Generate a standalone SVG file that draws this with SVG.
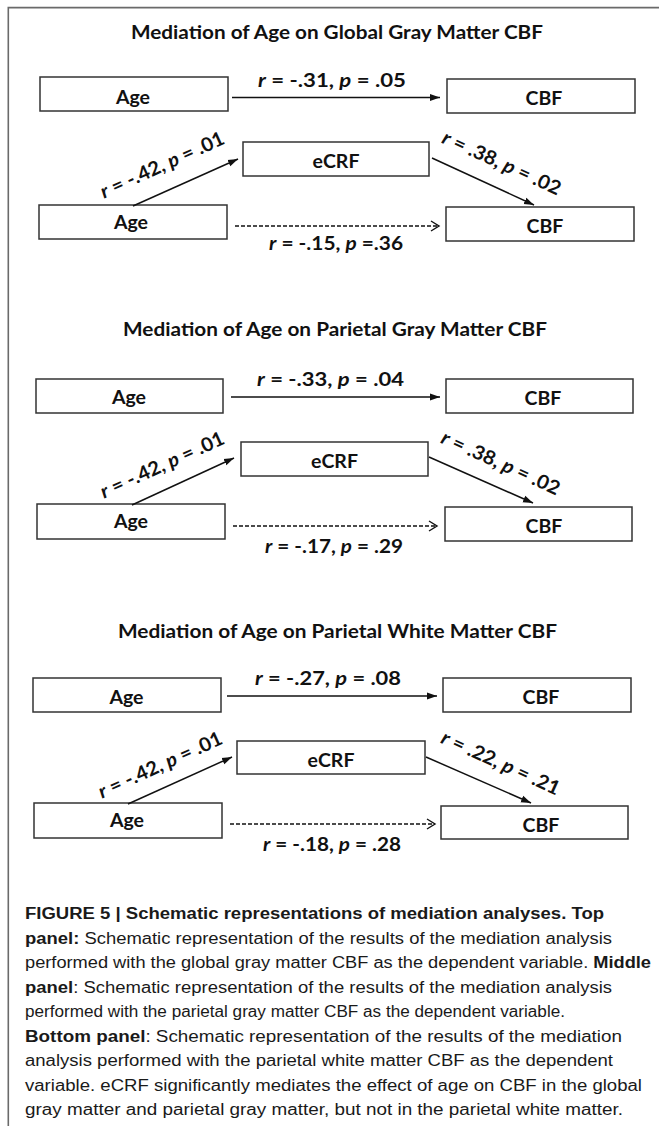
<svg xmlns="http://www.w3.org/2000/svg" width="659" height="1126" viewBox="0 0 659 1126">
<style>
.frame{fill:none;stroke:#6a6a6a;stroke-width:1.6}
.box{fill:#fff;stroke:#333;stroke-width:1.5}
.lbl{font-family:Lato,"Liberation Sans",sans-serif;font-weight:bold;font-size:19.5px;fill:#111;text-anchor:middle}
.ttl{font-family:Lato,"Liberation Sans",sans-serif;font-weight:bold;font-size:19.5px;fill:#111;text-anchor:middle}
.it{font-style:italic}
.solid{stroke:#111;stroke-width:1.5;fill:none;marker-end:url(#ah)}
.dash{stroke:#111;stroke-width:1.4;fill:none;stroke-dasharray:4 2;marker-end:url(#oh)}
.cap{font-family:"Liberation Sans",Arial,sans-serif;font-size:15.6px;fill:#1a1a1a}
.b{font-weight:bold}
</style>
<defs>
<marker id="ah" markerUnits="userSpaceOnUse" markerWidth="10" markerHeight="8" refX="10" refY="4" orient="auto" viewBox="0 0 10 8">
<path d="M0,0.5 L10,4 L0,7.5 z" fill="#111"/>
</marker>
<marker id="oh" markerUnits="userSpaceOnUse" markerWidth="11" markerHeight="12" refX="9.5" refY="6" orient="auto" viewBox="0 0 11 12">
<path d="M1.5,1 L9.5,6 L1.5,11" fill="none" stroke="#111" stroke-width="1.4"/>
</marker>
</defs>
<rect width="659" height="1126" fill="#fff"/>
<path class="frame" d="M8.3,1126 V7.6 H659"/>

<!-- Panel 1 -->
<g id="panel1">
<text id="title1" class="ttl" x="337" y="39" textLength="412" lengthAdjust="spacingAndGlyphs">Mediation of Age on Global Gray Matter CBF</text>
<g id="p1-age-top"><rect class="box" x="40" y="77" width="188" height="34"/><text class="lbl" x="133" y="103.5">Age</text></g>
<g id="p1-cbf-top"><rect class="box" x="447" y="79" width="188" height="34"/><text class="lbl" x="544" y="105">CBF</text></g>
<g id="p1-ecrf"><rect class="box" x="243" y="142" width="186" height="34"/><text class="lbl" x="336" y="168">eCRF</text></g>
<g id="p1-age-bot"><rect class="box" x="39" y="205" width="188" height="34"/><text class="lbl" x="131" y="228.5">Age</text></g>
<g id="p1-cbf-bot"><rect class="box" x="446" y="207" width="188" height="34"/><text class="lbl" x="545" y="233">CBF</text></g>
<g id="p1-connectors">
<line class="solid" x1="232" y1="97.5" x2="440" y2="97.5"/>
<line class="solid" x1="133" y1="206" x2="238" y2="159"/>
<line class="solid" x1="432" y1="158" x2="534" y2="205"/>
<line class="dash" x1="235" y1="226" x2="439" y2="226"/>
<text class="lbl" x="332" y="87" textLength="148" lengthAdjust="spacingAndGlyphs"><tspan class="it">r</tspan> = -.31, <tspan class="it">p</tspan> = .05</text>
<text class="lbl" x="336" y="250" textLength="134" lengthAdjust="spacingAndGlyphs"><tspan class="it">r</tspan> = -.15, <tspan class="it">p</tspan> =.36</text>
<text class="lbl" transform="translate(165,171) rotate(-24.5)" textLength="134" lengthAdjust="spacingAndGlyphs"><tspan class="it">r</tspan> = -.42, <tspan class="it">p</tspan> = .01</text>
<text class="lbl" transform="translate(499,169) rotate(24.5)" textLength="128" lengthAdjust="spacingAndGlyphs"><tspan class="it">r</tspan> = .38, <tspan class="it">p</tspan> = .02</text>
</g>
</g>

<!-- Panel 2 -->
<g id="panel2">
<text id="title2" class="ttl" x="335" y="336" textLength="424" lengthAdjust="spacingAndGlyphs">Mediation of Age on Parietal Gray Matter CBF</text>
<g id="p2-age-top"><rect class="box" x="36" y="379" width="187" height="34"/><text class="lbl" x="129" y="404">Age</text></g>
<g id="p2-cbf-top"><rect class="box" x="446" y="379" width="187" height="34"/><text class="lbl" x="543" y="404.5">CBF</text></g>
<g id="p2-ecrf"><rect class="box" x="241" y="442" width="187" height="34"/><text class="lbl" x="334.5" y="468">eCRF</text></g>
<g id="p2-age-bot"><rect class="box" x="37" y="504" width="188" height="35"/><text class="lbl" x="131" y="528">Age</text></g>
<g id="p2-cbf-bot"><rect class="box" x="445" y="507" width="187" height="34"/><text class="lbl" x="544" y="533">CBF</text></g>
<g id="p2-connectors">
<line class="solid" x1="231" y1="397" x2="440" y2="397"/>
<line class="solid" x1="132" y1="505" x2="234" y2="458"/>
<line class="solid" x1="429" y1="457" x2="533" y2="503"/>
<line class="dash" x1="233" y1="526" x2="437" y2="526"/>
<text class="lbl" x="330.5" y="386" textLength="147" lengthAdjust="spacingAndGlyphs"><tspan class="it">r</tspan> = -.33, <tspan class="it">p</tspan> = .04</text>
<text class="lbl" x="334" y="553" textLength="138" lengthAdjust="spacingAndGlyphs"><tspan class="it">r</tspan> = -.17, <tspan class="it">p</tspan> = .29</text>
<text class="lbl" transform="translate(165,471) rotate(-24.5)" textLength="134" lengthAdjust="spacingAndGlyphs"><tspan class="it">r</tspan> = -.42, <tspan class="it">p</tspan> = .01</text>
<text class="lbl" transform="translate(498,469) rotate(24.5)" textLength="128" lengthAdjust="spacingAndGlyphs"><tspan class="it">r</tspan> = .38, <tspan class="it">p</tspan> = .02</text>
</g>
</g>

<!-- Panel 3 -->
<g id="panel3">
<text id="title3" class="ttl" x="337.5" y="638" textLength="439" lengthAdjust="spacingAndGlyphs">Mediation of Age on Parietal White Matter CBF</text>
<g id="p3-age-top"><rect class="box" x="33" y="678" width="188" height="34"/><text class="lbl" x="126.5" y="703.5">Age</text></g>
<g id="p3-cbf-top"><rect class="box" x="443" y="678" width="188" height="34"/><text class="lbl" x="541" y="703.5">CBF</text></g>
<g id="p3-ecrf"><rect class="box" x="237" y="741" width="188" height="33"/><text class="lbl" x="331" y="767">eCRF</text></g>
<g id="p3-age-bot"><rect class="box" x="34" y="803" width="188" height="35"/><text class="lbl" x="127" y="826.5">Age</text></g>
<g id="p3-cbf-bot"><rect class="box" x="441" y="806" width="187" height="33"/><text class="lbl" x="541" y="832">CBF</text></g>
<g id="p3-connectors">
<line class="solid" x1="227" y1="696" x2="437" y2="696"/>
<line class="solid" x1="128" y1="804" x2="232" y2="757"/>
<line class="solid" x1="426" y1="757" x2="531" y2="803"/>
<line class="dash" x1="230" y1="824" x2="435" y2="824"/>
<text class="lbl" x="328" y="685" textLength="146" lengthAdjust="spacingAndGlyphs"><tspan class="it">r</tspan> = -.27, <tspan class="it">p</tspan> = .08</text>
<text class="lbl" x="332" y="851" textLength="138" lengthAdjust="spacingAndGlyphs"><tspan class="it">r</tspan> = -.18, <tspan class="it">p</tspan> = .28</text>
<text class="lbl" transform="translate(163,771) rotate(-24.5)" textLength="134" lengthAdjust="spacingAndGlyphs"><tspan class="it">r</tspan> = -.42, <tspan class="it">p</tspan> = .01</text>
<text class="lbl" transform="translate(498,769) rotate(24.5)" textLength="128" lengthAdjust="spacingAndGlyphs"><tspan class="it">r</tspan> = .22, <tspan class="it">p</tspan> = .21</text>
</g>
</g>

<!-- Caption -->
<g id="caption">
<text class="cap b" x="25" y="919" textLength="579" lengthAdjust="spacingAndGlyphs">FIGURE 5 | Schematic representations of mediation analyses. Top</text>
<text class="cap" x="25" y="943.5" textLength="587" lengthAdjust="spacingAndGlyphs"><tspan class="b">panel:</tspan> Schematic representation of the results of the mediation analysis</text>
<text class="cap" x="25" y="968" textLength="626" lengthAdjust="spacingAndGlyphs">performed with the global gray matter CBF as the dependent variable. <tspan class="b">Middle</tspan></text>
<text class="cap" x="25" y="992.5" textLength="587" lengthAdjust="spacingAndGlyphs"><tspan class="b">panel</tspan>: Schematic representation of the results of the mediation analysis</text>
<text class="cap" x="25" y="1017" textLength="540" lengthAdjust="spacingAndGlyphs">performed with the parietal gray matter CBF as the dependent variable.</text>
<text class="cap" x="25" y="1041.5" textLength="597" lengthAdjust="spacingAndGlyphs"><tspan class="b">Bottom panel</tspan>: Schematic representation of the results of the mediation</text>
<text class="cap" x="25" y="1066" textLength="588" lengthAdjust="spacingAndGlyphs">analysis performed with the parietal white matter CBF as the dependent</text>
<text class="cap" x="25" y="1090.5" textLength="617" lengthAdjust="spacingAndGlyphs">variable. eCRF significantly mediates the effect of age on CBF in the global</text>
<text class="cap" x="25" y="1115" textLength="598" lengthAdjust="spacingAndGlyphs">gray matter and parietal gray matter, but not in the parietal white matter.</text>
</g>
</svg>
